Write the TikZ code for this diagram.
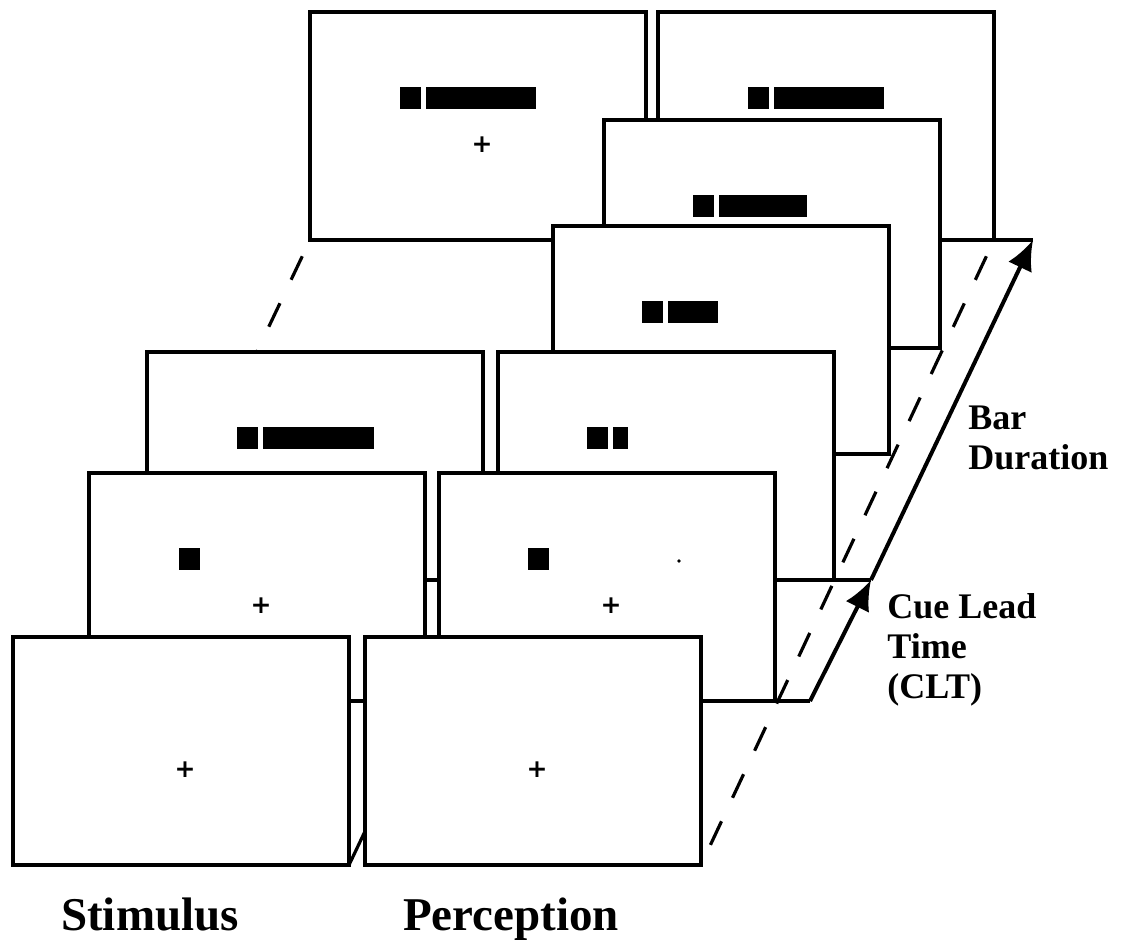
\documentclass[tikz,border=0pt]{standalone}
\usepackage{fontspec}
\setmainfont{Liberation Serif}
\newfontfamily\crossfont{DejaVu Sans}
\usetikzlibrary{arrows.meta,calc,backgrounds}

\begin{document}
\begin{tikzpicture}[
  x=0.5pt, y=-0.5pt,
  >=Latex,
  screen/.style={rectangle, draw=black, fill=white, line width=1.6pt, inner sep=0pt, outer sep=0pt, minimum width=168pt, minimum height=114pt, anchor=north west},
  fix/.style={font=\crossfont\bfseries\fontsize{12.5}{12.5}\selectfont, inner sep=0pt},
  edge/.style={line width=1.6pt},
  flow/.style={-{Latex[length=15pt,width=13pt]}, line width=2pt},
  depth/.style={line width=1.6pt, dash pattern=on 13pt off 13pt, dash phase=17pt},
  lbl/.style={font=\fontsize{18}{20}\selectfont\bfseries, align=left, inner sep=0pt},
  title/.style={font=\fontsize{23.5}{24}\selectfont\bfseries, inner sep=0pt}
]
  \useasboundingbox (0,0) rectangle (1123,943);

  % Screens, back to front
  \node[screen] (sa) at (310,12) {};
  \node[screen] (pa) at (658,12) {};
  \node[screen] (pb) at (604,120) {};
  \node[screen] (pc) at (553,226) {};
  \node[screen] (sb) at (147,352) {};
  \node[screen] (pd) at (498,352) {};
  \node[screen] (sc) at (89,473) {};
  \node[screen] (pe) at (439,473) {};
  \node[screen] (sd) at (13,637) {};
  \node[screen] (pf) at (365,637) {};

  % Cue squares and bars
  \fill ($(sa.north west)+(90,75)$) rectangle ++(21,22);
  \fill ($(sa.north west)+(116,75)$) rectangle ++(110,22);
  \fill ($(sb.north west)+(90,75)$) rectangle ++(21,22);
  \fill ($(sb.north west)+(116,75)$) rectangle ++(111,22);
  \fill ($(sc.north west)+(90,75)$) rectangle ++(21,22);
  \fill ($(pa.north west)+(90,75)$) rectangle ++(21,22);
  \fill ($(pa.north west)+(116,75)$) rectangle ++(110,22);
  \fill ($(pb.north west)+(89,75)$) rectangle ++(21,22);
  \fill ($(pb.north west)+(115,75)$) rectangle ++(88,22);
  \fill ($(pc.north west)+(89,75)$) rectangle ++(21,22);
  \fill ($(pc.north west)+(115,75)$) rectangle ++(50,22);
  \fill ($(pd.north west)+(89,75)$) rectangle ++(21,22);
  \fill ($(pd.north west)+(115,75)$) rectangle ++(15,22);
  \fill ($(pe.north west)+(89,75)$) rectangle ++(21,22);
  \fill ($(pe.north west)+(240,88)$) circle (1.8);

  % Fixation crosses
  \node[fix] (sax) at ($(sa.north west)+(172,133)$) {+};
  \node[fix] (scx) at ($(sc.north west)+(172,133)$) {+};
  \node[fix] (sdx) at ($(sd.north west)+(172,133)$) {+};
  \node[fix] (pex) at ($(pe.north west)+(172,133)$) {+};
  \node[fix] (pfx) at ($(pf.north west)+(172,133)$) {+};

  % Depth lines
  \begin{scope}[on background layer]
    \draw[depth] (sa.south west) -- (sd.south west);
    \draw[edge] (sd.south east) -- (sa.south east);
  \end{scope}
  \draw[depth] (pa.south east) -- (pf.south east);

  % Time arrows
  \coordinate (cltbase) at ($(pe.south east)+(35,0)$);
  \coordinate (clttip) at ($(pd.south east)+(37,0)$);
  \coordinate (bartip) at ($(pa.south east)+(39,0)$);
  \draw[edge] (pe.south east) -- (cltbase);
  \draw[edge] (pd.south east) -- (clttip);
  \draw[edge] (pa.south east) -- (bartip);
  \draw[flow] (cltbase) -- (clttip);
  \draw[flow] (clttip) -- (bartip);

  % Labels (anchor on the last line)
  \node[lbl, anchor=base west] (bardur) at (968,469) {Bar\\Duration};
  \node[lbl, anchor=base west] (clt) at (887,698) {Cue Lead\\Time\\(CLT)};
  \node[title, anchor=base] (stim) at (150,930) {Stimulus};
  \node[title, anchor=base] (perc) at (511,930) {Perception};
\end{tikzpicture}
\end{document}
